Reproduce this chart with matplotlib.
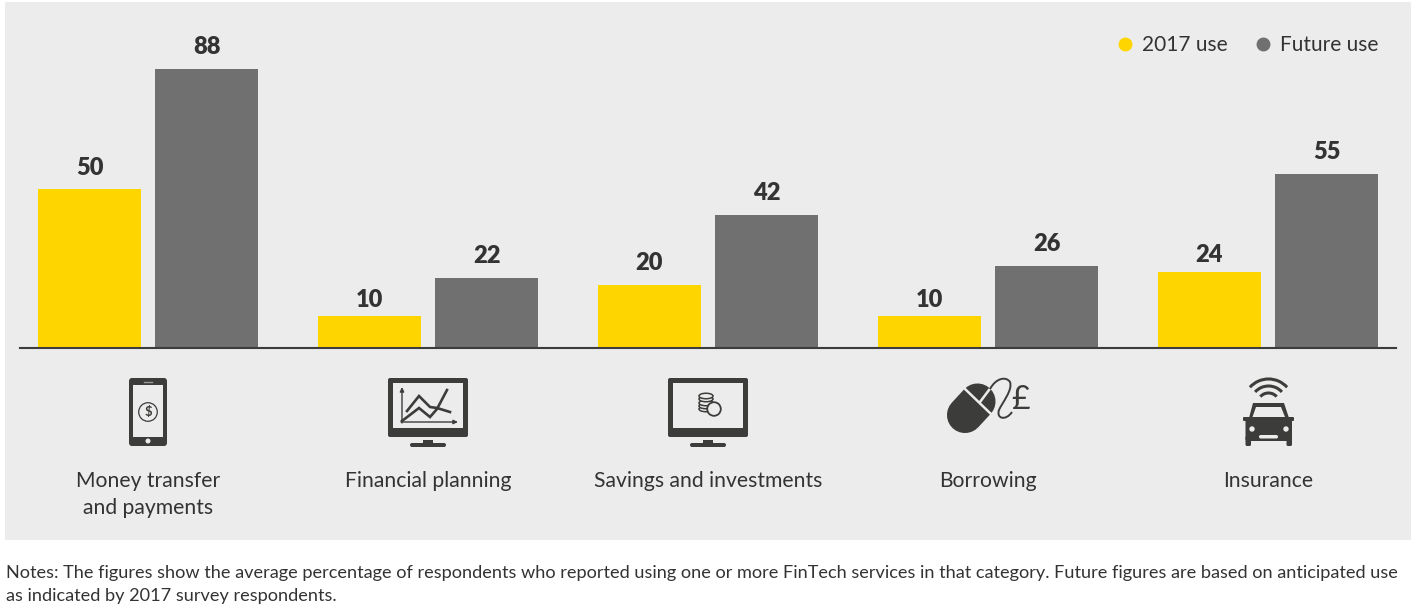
#!/usr/bin/env python3
"""FinTech use by category: 2017 vs anticipated future use, with category icons."""

import numpy as np
import matplotlib
matplotlib.use("Agg")
import matplotlib.pyplot as plt
from matplotlib.lines import Line2D
from matplotlib.patches import Arc, Circle, Ellipse, FancyBboxPatch, PathPatch, Polygon, Rectangle
from matplotlib.path import Path

CATEGORIES = ["Money transfer\nand payments", "Financial planning", "Savings and investments",
              "Borrowing", "Insurance"]
USE_2017 = [50, 10, 20, 10, 24]
USE_FUTURE = [88, 22, 42, 26, 55]
SERIES_NAMES = ["2017 use", "Future use"]
NOTES = ("Notes: The figures show the average percentage of respondents who reported using one or more "
         "FinTech services in that category. Future figures are based on anticipated use\n"
         "as indicated by 2017 survey respondents.")

W, H = 1416, 610
YELLOW, GREY = "#ffd500", "#717071"
BG, DARK, TEXT = "#ececec", "#3c3c3a", "#333333"
FONT = "Lato"


def rbox(ov, x0, y0, x1, y1, r, color):
    ov.add_patch(FancyBboxPatch((x0 + r, y0 + r), x1 - x0 - 2 * r, y1 - y0 - 2 * r,
                                boxstyle=f"round,pad={r},rounding_size={r}", fc=color, ec="none"))


def monitor(ov, dx):
    rbox(ov, 388 + dx, 378, 468 + dx, 437, 2, DARK)
    ov.add_patch(Rectangle((392.5 + dx, 382.5), 70.5, 45, fc=BG, ec="none"))
    ov.add_patch(Rectangle((423 + dx, 440), 10, 4, fc=DARK, ec="none"))
    rbox(ov, 410 + dx, 443, 446 + dx, 447, 2, DARK)


def phone_icon(ov):
    rbox(ov, 129, 378, 167, 446, 3, DARK)
    ov.add_patch(Rectangle((133, 385), 30, 52, fc=BG, ec="none"))
    ov.plot([144, 152], [382, 382], color="#9a9a98", lw=1)
    ov.add_patch(Circle((148, 441), 2.5, fc=BG, ec="none"))
    ov.add_patch(Circle((148, 412), 9.3, fc="none", ec=DARK, lw=0.9))
    ov.text(148, 412, "$", ha="center", va="center", fontsize=9.5, fontweight="bold",
            color=DARK, family=FONT)


def planning_icon(ov):
    monitor(ov, 0)
    ov.annotate("", xy=(402, 387), xytext=(402, 423),
                arrowprops=dict(arrowstyle="-|>,head_width=0.12,head_length=0.25", color=DARK, lw=1,
                                shrinkA=0, shrinkB=0))
    ov.annotate("", xy=(458, 422), xytext=(401, 422),
                arrowprops=dict(arrowstyle="-|>,head_width=0.12,head_length=0.25", color=DARK, lw=1,
                                shrinkA=0, shrinkB=0))
    ov.plot([402, 419, 430, 437, 447], [421, 408, 417, 409, 390], color=DARK, lw=1.9,
            solid_joinstyle="miter")
    ov.plot([407, 419, 430, 437, 450], [411, 396, 407, 408, 412], color=DARK, lw=1.9,
            solid_joinstyle="miter")


def savings_icon(ov):
    monitor(ov, 280)
    for y in (409, 406, 403, 399, 396):
        ov.add_patch(Ellipse((706, y), 14, 5.5, fc=BG, ec=DARK, lw=1.1))
    ov.add_patch(Circle((714, 409), 6.8, fc=BG, ec=DARK, lw=1.3))


def borrowing_icon(ov):
    ov.plot([965, 977.5], [415, 401.5], color=DARK, lw=26, solid_capstyle="round")
    ov.plot([964, 991], [388, 414], color=BG, lw=1.8)
    ov.plot([989, 980], [390, 402], color=BG, lw=1.8)
    verts = [(990, 389), (996, 378), (1006, 376), (1010, 382), (1013, 390), (1002, 403), (999, 410),
             (996, 419), (1006, 421), (1012, 412)]
    codes = [Path.MOVETO] + [Path.CURVE4] * 9
    ov.add_patch(PathPatch(Path(verts, codes), fc="none", ec=DARK, lw=1.4))
    ov.text(1021, 400, "£", ha="center", va="center", fontsize=23, color=DARK, family=FONT)


def insurance_icon(ov):
    rbox(ov, 1245.5, 417, 1292, 441, 2, DARK)
    ov.add_patch(Polygon([(1249, 418), (1253, 403), (1284, 403), (1289, 418)], fc=DARK, ec="none"))
    ov.add_patch(Polygon([(1252.5, 417), (1256, 407), (1281, 407), (1285, 417)], fc=BG, ec="none"))
    rbox(ov, 1243, 417, 1294, 421, 1, DARK)
    rbox(ov, 1245.5, 436, 1251, 446, 1.5, DARK)
    rbox(ov, 1286.5, 436, 1292, 446, 1.5, DARK)
    ov.add_patch(Circle((1252, 429), 2.7, fc=BG, ec="none"))
    ov.add_patch(Circle((1286, 429), 2.7, fc=BG, ec="none"))
    rbox(ov, 1259, 435, 1278, 438.5, 1.7, BG)
    for d in (22, 36, 50):
        ov.add_patch(Arc((1268.5, 404), d, d, theta1=222, theta2=318, color=DARK, lw=2.2))


def main():
    plt.rcParams["font.family"] = [FONT, "DejaVu Sans"]
    fig = plt.figure(figsize=(W / 100, H / 100), dpi=100, facecolor="white")

    # pixel-space layer for the panel, icons and text below the bars
    ov = fig.add_axes([0, 0, 1, 1], zorder=0)
    ov.set_xlim(0, W)
    ov.set_ylim(H, 0)
    ov.axis("off")
    ov.add_patch(Rectangle((5, 2), 1406, 538, fc=BG, ec="none"))

    # bar axes: left/right edges are the ends of the baseline
    ax = fig.add_axes([20 / W, (H - 348) / H, 1376 / W, 346 / H], zorder=1)
    ax.patch.set_alpha(0)
    step = 280.0
    ax.set_xlim((20 - 148) / step, (1396 - 148) / step)
    ax.set_ylim(0, 346 / 3.17)
    for s in ("top", "left", "right"):
        ax.spines[s].set_visible(False)
    ax.spines["bottom"].set_color(DARK)
    ax.spines["bottom"].set_linewidth(1.5)
    ax.set_yticks([])
    ax.set_xticks([])

    x = np.arange(len(CATEGORIES))
    off, width = 58.5 / step, 103 / step
    b1 = ax.bar(x - off, USE_2017, width, color=YELLOW)
    b2 = ax.bar(x + off, USE_FUTURE, width, color=GREY)
    for bars in (b1, b2):
        for rect in bars:
            v = rect.get_height()
            # the source sets the 10 and 24 labels a little closer to their bars
            gap = 4 if v in (10, 24) else 7.8
            ax.annotate(f"{v:.0f}", (rect.get_x() + rect.get_width() / 2, v), xytext=(0, gap),
                        textcoords="offset points", ha="center", va="bottom", fontsize=17,
                        fontweight="heavy", color=TEXT)

    handles = [Line2D([], [], ls="", marker="o", ms=9, color=c) for c in (YELLOW, GREY)]
    ax.legend(handles, SERIES_NAMES, ncol=2, frameon=False, loc="upper right",
              bbox_to_anchor=(0.987, 0.904), borderaxespad=0, borderpad=0, fontsize=15,
              labelcolor=TEXT, handletextpad=0.2, columnspacing=1.12, handlelength=1.2)

    for cx, label in zip(148 + step * x, CATEGORIES):
        ov.text(cx, 471, label, ha="center", va="top", fontsize=15.2, color=TEXT, linespacing=1.41)
    ov.text(6, 565, NOTES, ha="left", va="top", fontsize=13.05, color=TEXT, linespacing=1.56)

    phone_icon(ov)
    planning_icon(ov)
    savings_icon(ov)
    borrowing_icon(ov)
    insurance_icon(ov)

    fig.savefig("out.png", dpi=100, facecolor="white")


if __name__ == "__main__":
    main()
